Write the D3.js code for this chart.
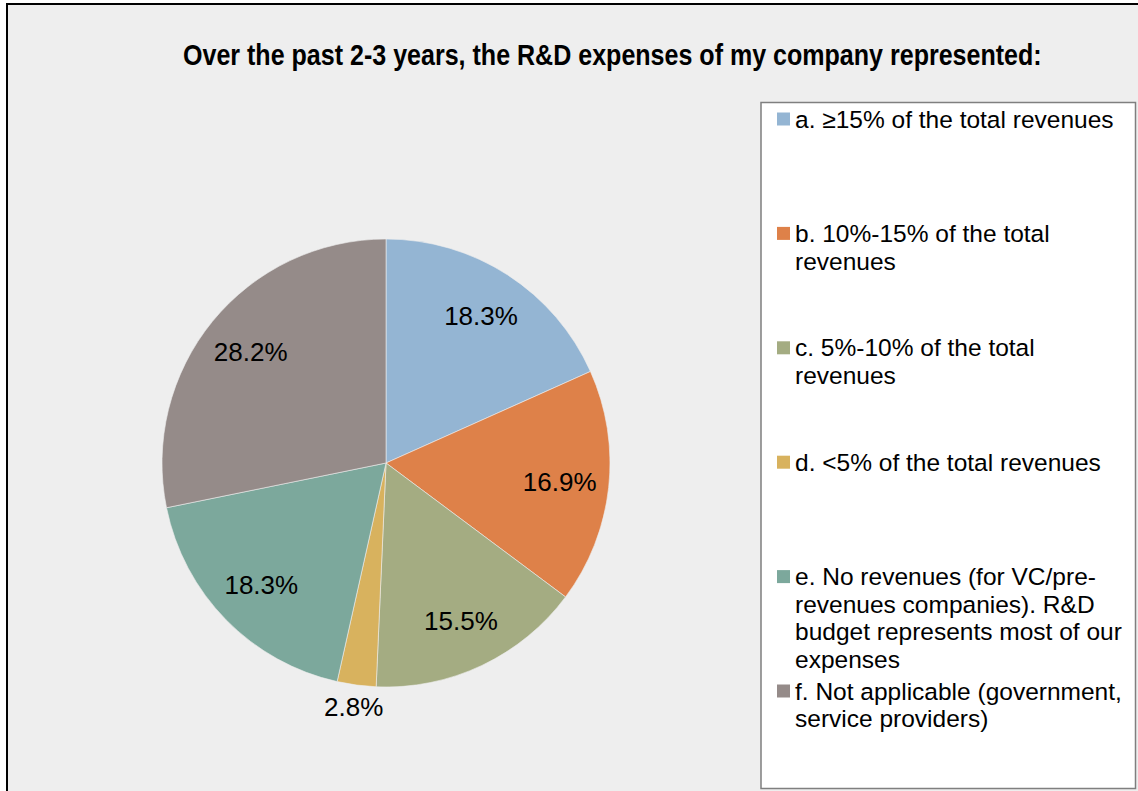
<!DOCTYPE html>
<html>
<head>
<meta charset="utf-8">
<script src="https://cdn.jsdelivr.net/npm/d3@7"></script>
<style>
  html, body { margin: 0; padding: 0; background: #ffffff; }
  svg { display: block; }
  text { font-family: "Liberation Sans", Arial, sans-serif; fill: #000; }
</style>
</head>
<body>
<svg id="chart" width="1138" height="791"></svg>
<script>
const titleText = "Over the past 2-3 years, the R&D expenses of my company represented:";
const categories = [
  "a. ≥15% of the total revenues",
  "b. 10%-15% of the total revenues",
  "c. 5%-10% of the total revenues",
  "d. <5% of the total revenues",
  "e. No revenues (for VC/pre-revenues companies). R&D budget represents most of our expenses",
  "f. Not applicable (government, service providers)"
];
const legendLines = [
  ["a. ≥15% of the total revenues"],
  ["b. 10%-15% of the total", "revenues"],
  ["c. 5%-10% of the total", "revenues"],
  ["d. <5% of the total revenues"],
  ["e. No revenues (for VC/pre-", "revenues companies). R&D", "budget represents most of our", "expenses"],
  ["f. Not applicable (government,", "service providers)"]
];
const values = [18.3, 16.9, 15.5, 2.8, 18.3, 28.2];
const colors = ["#94b5d3", "#de8149", "#a4ac82", "#d8b25e", "#7ca89c", "#958b89"];

const svg = d3.select("#chart");
const W = 1138, H = 791;

// background panel with border (left/top visible)
svg.append("rect").attr("x", 7).attr("y", 4).attr("width", W + 20).attr("height", H + 20)
  .attr("fill", "#eeeeee").attr("stroke", "#000").attr("stroke-width", 2);

// title (horizontally condensed to match the reference)
const titleG = svg.append("g");
const title = titleG.append("text")
  .attr("x", 0).attr("y", 0)
  .attr("font-size", 30).attr("font-weight", "bold")
  .text(titleText);
const natW = title.node().getComputedTextLength();
const sx = 859 / natW;
titleG.attr("transform", `translate(183,65) scale(${sx},1)`);

// pie
const cx = 386, cy = 463, r = 224;
const data = categories.map((c, i) => ({ cat: c, value: values[i], color: colors[i] }));
const pie = d3.pie().value(d => d.value).sort(null);
const arcs = pie(data);
const arc = d3.arc().innerRadius(0).outerRadius(r);
const labelArc = d3.arc().innerRadius(r * 0.78).outerRadius(r * 0.78);
const outArc = d3.arc().innerRadius(r + 22).outerRadius(r + 22);

const g = svg.append("g").attr("transform", `translate(${cx},${cy})`);
g.selectAll("path.slice").data(arcs).join("path")
  .attr("class", "slice")
  .attr("d", arc)
  .attr("fill", d => d.data.color)
  .attr("stroke", "#eeeeee").attr("stroke-width", 0.6);

g.selectAll("text.lbl").data(arcs).join("text")
  .attr("class", "lbl")
  .attr("transform", d => {
    const p = (d.data.value < 5 ? outArc : labelArc).centroid(d);
    return `translate(${p[0]},${p[1]})`;
  })
  .attr("text-anchor", "middle")
  .attr("dominant-baseline", "central")
  .attr("font-size", 26)
  .text(d => d3.format(".1f")(d.data.value) + "%");

// legend
const lg = svg.append("g");
lg.append("rect").attr("x", 761).attr("y", 102.5).attr("width", 374.5).attr("height", 686)
  .attr("fill", "#ffffff").attr("stroke", "#7f7f7f").attr("stroke-width", 1.5);

const legendY = d3.scaleLinear().domain([0, categories.length - 1]).range([119, 691]);
const lineH = 27.6;
categories.forEach((c, i) => {
  const y0 = legendY(i);
  lg.append("rect").attr("x", 777).attr("y", y0 - 6.5).attr("width", 13).attr("height", 13)
    .attr("fill", colors[i]);
  const t = lg.append("text").attr("font-size", 24.5).attr("x", 795);
  legendLines[i].forEach((ln, j) => {
    t.append("tspan").attr("x", 795).attr("y", y0 + j * lineH + 8.5).text(ln);
  });
});
</script>
</body>
</html>
